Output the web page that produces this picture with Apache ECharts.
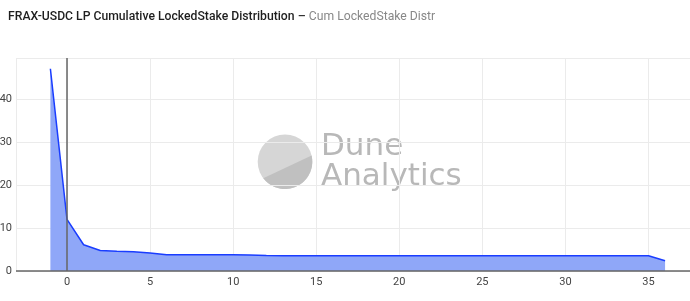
<!DOCTYPE html>
<html><head><meta charset="utf-8">
<script src="https://cdn.jsdelivr.net/npm/echarts@6/dist/echarts.min.js"></script>
<style>html,body{margin:0;padding:0;background:#fff}#c{width:690px;height:301px}</style>
</head><body><div id="c"></div>
<script>
const titleMain = "FRAX-USDC LP Cumulative LockedStake Distribution";
const titleSub = "Cum LockedStake Distr";
const xValues = [-1,0,1,2,3,4,5,6,7,8,9,10,11,12,13,14,15,16,17,18,19,20,21,22,23,24,25,26,27,28,29,30,31,32,33,34,35,36];
const yValues = [47,12,6.1,4.75,4.6,4.5,4.2,3.8,3.75,3.75,3.75,3.75,3.7,3.6,3.55,3.55,3.55,3.55,3.55,3.55,3.55,3.55,3.55,3.55,3.55,3.55,3.55,3.55,3.55,3.55,3.55,3.55,3.55,3.55,3.55,3.55,3.55,2.4];

// watermark logo segment
const cx = 285, cy = 161.7, r = 27.3;
const segPts = [];
for (let a = -13; a <= 143; a += 4) {
  const t = a * Math.PI / 180;
  segPts.push([cx + r * Math.cos(t), cy + r * Math.sin(t)]);
}

const chart = echarts.init(document.getElementById('c'), null, {renderer:'canvas'});
const font = "Roboto, 'Liberation Sans', Arial, sans-serif";
chart.setOption({
  animation:false,
  textStyle:{fontFamily:font},
  title:{
    left:8, top:10, padding:0,
    text:'{a|' + titleMain + '}{b| – }{c|' + titleSub + '}',
    textStyle:{
      fontWeight:'normal',
      rich:{
        a:{fontFamily:font,fontSize:12.2,fontWeight:500,color:'#1e1e1e'},
        b:{fontFamily:font,fontSize:12.5,fontWeight:500,color:'#333'},
        c:{fontFamily:font,fontSize:12.2,fontWeight:'normal',color:'#888'}
      }
    }
  },
  graphic:[
    {type:'circle', shape:{cx:cx,cy:cy,r:r}, style:{fill:'#d6d6d6'}, z:0},
    {type:'polygon', shape:{points:segPts}, style:{fill:'#c0c0c0'}, z:0},
    {type:'text', x:321, y:147.4, style:{text:'Dune', font:"31px 'DejaVu Sans', sans-serif", fill:'#b8b8b8', verticalAlign:'middle'}, z:0},
    {type:'text', x:321, y:177.4, style:{text:'Analytics', font:"31px 'DejaVu Sans', sans-serif", fill:'#b8b8b8', verticalAlign:'middle'}, z:0}
  ],
  grid:{left:16, right:0, top:58, bottom:30, outerBoundsMode:'none', containLabel:false},
  xAxis:{
    type:'value', min:-3.07, max:37.5, splitNumber:8,
    axisLine:{show:false},
    axisTick:{show:false},
    axisLabel:{showMinLabel:false, showMaxLabel:false, fontSize:11, color:'#444', margin:6},
    splitLine:{lineStyle:{color:'#ebebeb', width:1}}
  },
  yAxis:{
    type:'value', min:0, max:49.5, interval:10,
    axisLine:{show:false},
    axisTick:{show:false},
    axisLabel:{showMaxLabel:false, fontSize:11, color:'#444', margin:4},
    splitLine:{lineStyle:{color:'#ebebeb', width:1}}
  },
  series:[{
    type:'line',
    data:xValues.map((x,i)=>[x,yValues[i]]),
    symbol:'none',
    lineStyle:{color:'#1a3dff', width:1.5},
    areaStyle:{color:'#8fa7f8', opacity:1},
    z:3,
    markLine:{
      silent:true, symbol:'none', label:{show:false},
      data:[
        [{coord:[-3.07,0]},{coord:[37.5,0]}],
        [{coord:[0,0]},{coord:[0,49.5]}]
      ],
      lineStyle:{color:'#666', width:1.5, type:'solid'}
    }
  }]
});
</script></body></html>
